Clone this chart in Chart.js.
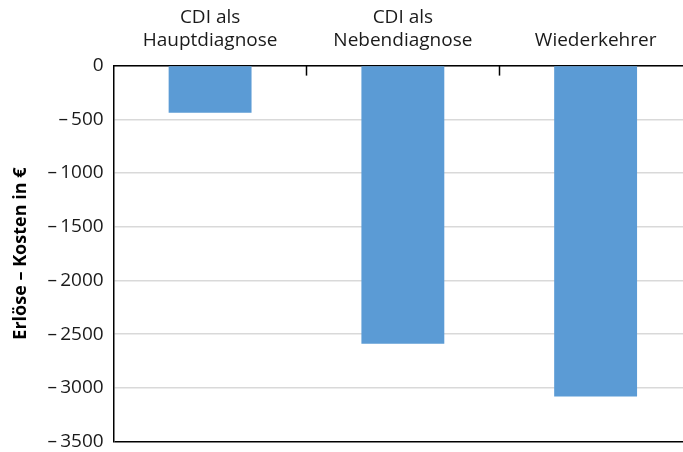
<!DOCTYPE html>
<html>
<head>
<meta charset="utf-8">
<script src="https://cdn.jsdelivr.net/npm/chart.js@4"></script>
<style>
  html, body { margin: 0; padding: 0; background: #fff; overflow: hidden; }
  #wrap { width: 692px; height: 463px; }
</style>
</head>
<body>
<div id="wrap"><canvas id="costChart"></canvas></div>
<script>
// Data
const categories = [['CDI als', 'Hauptdiagnose'], ['CDI als', 'Nebendiagnose'], 'Wiederkehrer'];
const costValues = [-440, -2590, -3080];
const yMin = -3500;
const yMax = 0;
const yStep = 500;
const yTitle = 'Erlöse \u2013 Kosten in \u20ac';

const FONT = "'Open Sans', sans-serif";

// inward tick marks at category boundaries on the top axis
const innerTicks = {
    id: 'innerTicks',
    afterDraw(chart) {
        const x = chart.scales.x;
        const top = chart.chartArea.top;
        const c = chart.ctx;
        const half = (x.getPixelForValue(1) - x.getPixelForValue(0)) / 2;
        c.save();
        c.strokeStyle = '#000';
        c.lineWidth = 1.5;
        for (let i = 1; i < categories.length; i++) {
            const px = Math.round(x.getPixelForValue(i) - half) + 0.5;
            c.beginPath();
            c.moveTo(px, top);
            c.lineTo(px, top + 10);
            c.stroke();
        }
        c.restore();
    }
};

const ctx = document.getElementById('costChart').getContext('2d');
new Chart(ctx, {
    type: 'bar',
    data: {
        labels: categories,
        datasets: [{
            data: costValues,
            backgroundColor: '#5b9bd5',
            barPercentage: 1,
            categoryPercentage: 0.43
        }]
    },
    options: {
        responsive: true,
        maintainAspectRatio: false,
        animation: false,
        layout: { padding: { left: 10, top: 0, right: 0, bottom: 0 } },
        plugins: { legend: { display: false }, tooltip: { enabled: false } },
        scales: {
            x: {
                position: 'top',
                grid: { display: false },
                border: { color: '#000', width: 1.5 },
                ticks: {
                    color: '#1a1a1a',
                    font: { family: FONT, size: 19, lineHeight: 1.2 },
                    padding: 6,
                    maxRotation: 0
                }
            },
            y: {
                min: yMin,
                max: yMax,
                grid: {
                    drawTicks: false,
                    color: (c) => c.tick && c.tick.value === yMin ? '#000' : '#d9d9d9',
                    lineWidth: 1.5
                },
                border: { color: '#000', width: 1.5 },
                ticks: {
                    stepSize: yStep,
                    color: '#1a1a1a',
                    font: { family: FONT, size: 19 },
                    padding: 10,
                    callback: (v) => v < 0 ? '\u2013\u2009' + Math.abs(v) : String(v)
                },
                title: {
                    display: true,
                    text: yTitle,
                    color: '#000',
                    font: { family: FONT, size: 18, weight: 'bold' },
                    padding: { top: 0, bottom: 6 }
                }
            }
        }
    },
    plugins: [innerTicks]
});
</script>
</body>
</html>
